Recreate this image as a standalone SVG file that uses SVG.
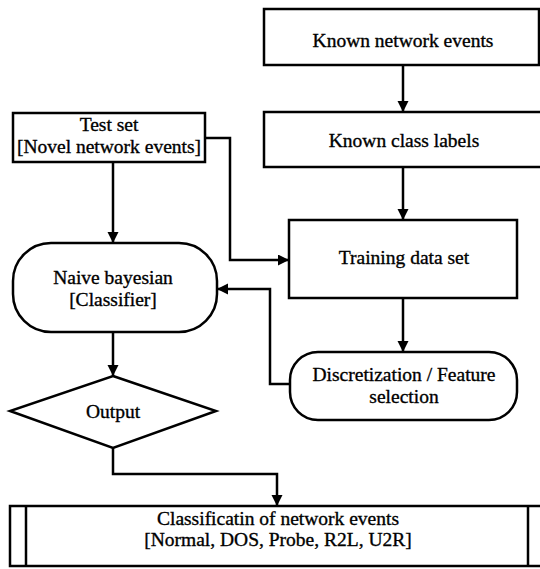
<svg xmlns="http://www.w3.org/2000/svg" width="540" height="569" viewBox="0 0 540 569">
<defs>
<marker id="ah" markerWidth="12" markerHeight="12" refX="11" refY="5.5" orient="auto" markerUnits="userSpaceOnUse">
<path d="M0,0 L11,5.5 L0,11 Z" fill="#000"/>
</marker>
<style>
.shape{fill:#fff;stroke:#000;stroke-width:2.5}
.conn{fill:none;stroke:#000;stroke-width:2.5;marker-end:url(#ah)}
text{font-family:"Liberation Serif","Times New Roman",serif;font-size:19.5px;fill:#000;stroke:#000;stroke-width:0.35;text-anchor:middle}
</style>
</defs>
<rect width="540" height="569" fill="#fff"/>
<g id="known-events">
<rect class="shape" x="264" y="9" width="275" height="56"/>
<text x="403" y="47">Known network events</text>
</g>
<g id="known-labels">
<rect class="shape" x="264" y="112" width="278" height="55"/>
<text x="404" y="147">Known class labels</text>
</g>
<g id="test-set">
<rect class="shape" x="13" y="113" width="192" height="49"/>
<text x="109" y="131">Test set</text>
<text x="109" y="153">[Novel network events]</text>
</g>
<g id="training">
<rect class="shape" x="289" y="220" width="228" height="78"/>
<text x="404" y="264">Training data set</text>
</g>
<g id="naive">
<rect class="shape" x="13" y="243" width="204" height="89" rx="38" ry="38"/>
<text x="113" y="284">Naive bayesian</text>
<text x="113" y="306">[Classifier]</text>
</g>
<g id="discretization">
<rect class="shape" x="290" y="352" width="227" height="68" rx="28" ry="28"/>
<text x="404" y="381">Discretization / Feature</text>
<text x="404" y="403">selection</text>
</g>
<g id="output">
<polygon class="shape" points="113,376 216,411 113,448 10,411"/>
<text x="113" y="418">Output</text>
</g>
<g id="classification">
<rect class="shape" x="10" y="506" width="535" height="60"/>
<line x1="26" y1="506" x2="26" y2="566" stroke="#000" stroke-width="2.5"/>
<line x1="528" y1="506" x2="528" y2="566" stroke="#000" stroke-width="2.5"/>
<text x="278" y="525">Classificatin of network events</text>
<text x="278" y="546">[Normal, DOS, Probe, R2L, U2R]</text>
</g>
<g id="connectors">
<path class="conn" d="M403,65 V112"/>
<path class="conn" d="M403,167 V220"/>
<path class="conn" d="M403,298 V352"/>
<path class="conn" d="M205,138 H230 V260 H289"/>
<path class="conn" d="M113,162 V243"/>
<path class="conn" d="M290,384 H270 V289 H217"/>
<path class="conn" d="M113,332 V376"/>
<path class="conn" d="M113,448 V474 H277 V506"/>
</g>
</svg>
